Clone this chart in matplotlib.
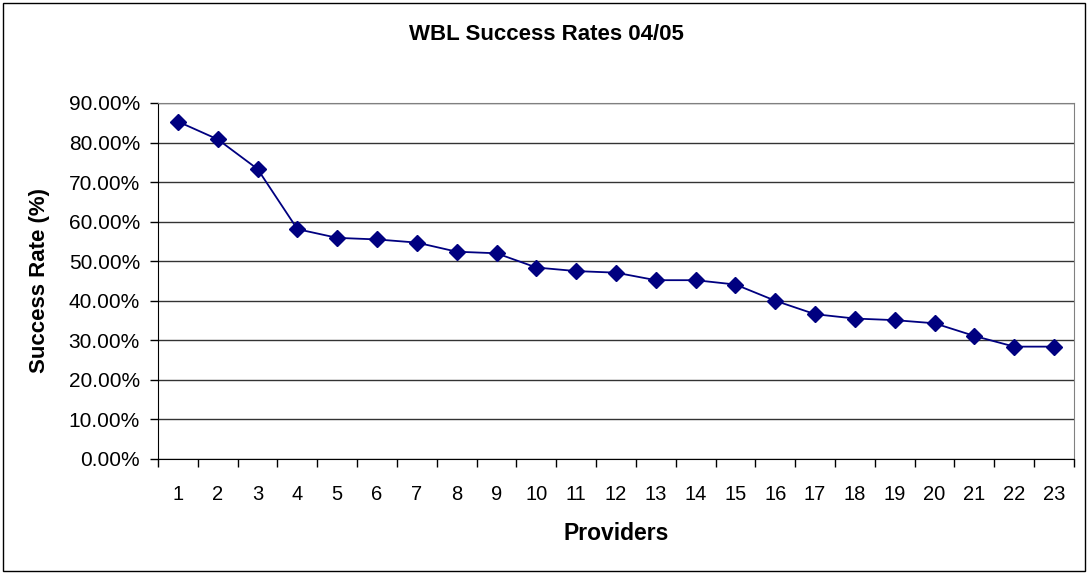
import matplotlib.pyplot as plt
from matplotlib.patches import Rectangle
from matplotlib.ticker import FuncFormatter, MultipleLocator

providers = list(range(1, 24))
success_rates = [85.3, 80.8, 73.3, 58.1, 55.9, 55.5, 54.7, 52.4, 52.0, 48.4, 47.5, 47.1,
                 45.2, 45.2, 44.1, 40.0, 36.6, 35.5, 35.1, 34.3, 31.1, 28.4, 28.4]

plt.rcParams['font.family'] = ['Liberation Sans', 'DejaVu Sans']

fig = plt.figure(figsize=(10.89, 5.73), dpi=100)
ax1 = fig.add_axes([0.1451, 0.199, 0.8411, 0.6213])

ax1.plot(providers, success_rates, color="#000080", lw=1.3, marker="D", ms=8,
         markeredgecolor="#000080", zorder=3, clip_on=False)

ax1.set_xlim(0.5, len(providers) + 0.5)
ax1.set_ylim(0, 90)
ax1.yaxis.set_major_locator(MultipleLocator(10))
ax1.yaxis.set_major_formatter(FuncFormatter(lambda v, p: "%.2f%%" % v))
ax1.grid(axis="y", color="#333333", lw=1)
ax1.set_axisbelow(True)

# ticks between categories, labels centred on them
ax1.set_xticks([i + 0.5 for i in range(len(providers) + 1)])
ax1.set_xticklabels([])
ax1.set_xticks(providers, minor=True)
ax1.set_xticklabels([str(p) for p in providers], minor=True, fontsize=14.5)
ax1.tick_params(axis="x", which="minor", length=0, pad=19)
ax1.tick_params(axis="x", which="major", length=6, width=1, direction="out")
ax1.tick_params(axis="y", length=6, width=1, labelsize=15, pad=7)

for side in ["top", "right"]:
    ax1.spines[side].set_color("#808080")
for side in ["left", "bottom"]:
    ax1.spines[side].set_color("black")

ax1.set_xlabel("Providers", fontsize=16.5, fontweight="bold", va="center")
ax1.xaxis.set_label_coords(0.5, -0.208)
ax1.set_ylabel("Success Rate (%)", fontsize=16, fontweight="bold", va="center")
ax1.yaxis.set_label_coords(-0.129, 0.5)
fig.text(546.5 / 1089, 1 - 35 / 573, "WBL Success Rates 04/05", ha="center", va="center",
         fontsize=16, fontweight="bold")

fig.patches.append(Rectangle((0.003, 0.004), 0.993, 0.991, transform=fig.transFigure,
                             fill=False, edgecolor="black", lw=1))

plt.savefig("out.png", dpi=100)
